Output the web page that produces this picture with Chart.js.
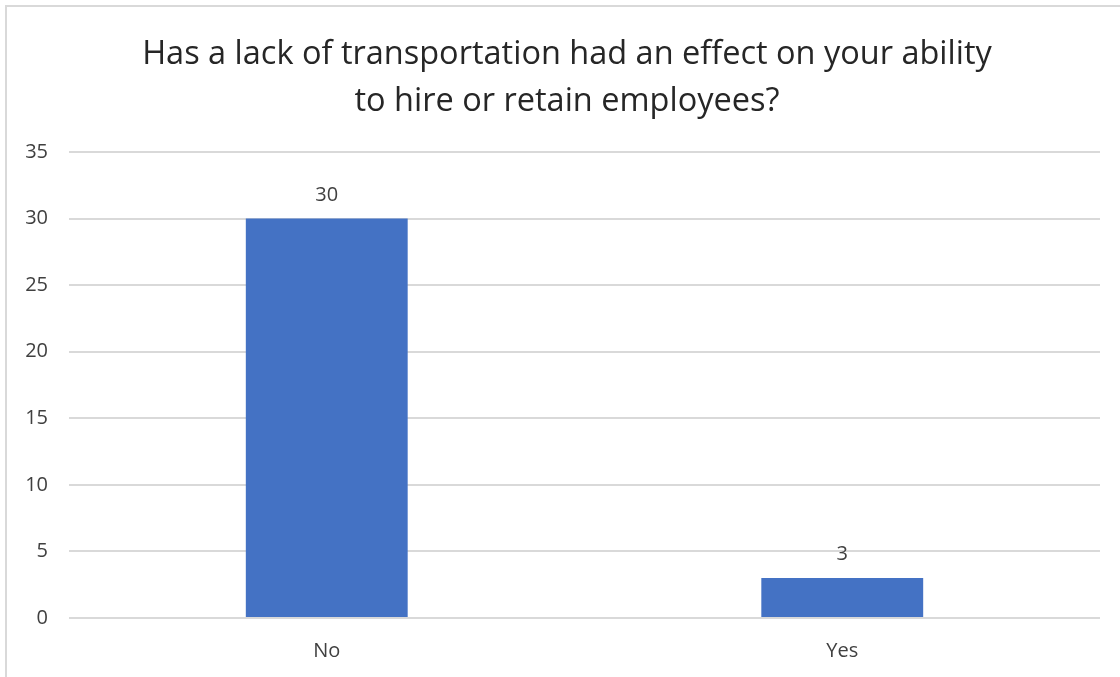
<!DOCTYPE html>
<html>
<head>
<meta charset="utf-8">
<script src="https://cdn.jsdelivr.net/npm/chart.js@4"></script>
<style>
html,body{margin:0;padding:0;background:#fff;}
#wrap{position:absolute;left:0;top:0;width:1120px;height:677px;}
</style>
</head>
<body>
<div id="wrap"><canvas id="c" width="1120" height="677"></canvas></div>
<script>
const categories = ["No", "Yes"];
const counts = [30, 3];
const yTicks = [0, 5, 10, 15, 20, 25, 30, 35];
const titleLines = ["Has a lack of transportation had an effect on your ability", "to hire or retain employees?"];

const FONT = "'Open Sans', sans-serif";

const frame = {
  id: 'frame',
  beforeDraw(chart) {
    const ctx = chart.ctx;
    ctx.save();
    ctx.fillStyle = '#fff';
    ctx.fillRect(0, 0, chart.width, chart.height);
    ctx.strokeStyle = '#d9d9d9';
    ctx.lineWidth = 2;
    ctx.beginPath();
    ctx.moveTo(6, chart.height + 5);
    ctx.lineTo(6, 6);
    ctx.lineTo(chart.width + 5, 6);
    ctx.stroke();
    ctx.restore();
  }
};

const titleText = {
  id: 'titleText',
  afterDraw(chart) {
    const ctx = chart.ctx;
    ctx.save();
    ctx.font = "32.5px " + FONT;
    ctx.fillStyle = '#262626';
    ctx.textAlign = 'center';
    ctx.textBaseline = 'alphabetic';
    const baselines = [64, 111];
    titleLines.forEach((t, i) => ctx.fillText(t, 567, baselines[i]));
    ctx.restore();
  }
};

const valueLabels = {
  id: 'valueLabels',
  afterDatasetsDraw(chart) {
    const ctx = chart.ctx;
    const meta = chart.getDatasetMeta(0);
    ctx.save();
    ctx.font = "20px " + FONT;
    ctx.fillStyle = '#404040';
    ctx.textAlign = 'center';
    ctx.textBaseline = 'alphabetic';
    meta.data.forEach((bar, i) => {
      ctx.fillText(String(chart.data.datasets[0].data[i]), bar.x, bar.y - 18);
    });
    ctx.restore();
  }
};

new Chart(document.getElementById('c'), {
  type: 'bar',
  data: {
    labels: categories,
    datasets: [{
      data: counts,
      backgroundColor: '#4472C4',
      borderWidth: 0,
      barPercentage: 0.628,
      categoryPercentage: 0.5
    }]
  },
  options: {
    responsive: false,
    animation: false,
    layout: { padding: { left: 0, right: 20, top: 152, bottom: 0 } },
    plugins: {
      legend: { display: false },
      tooltip: { enabled: false },
      title: { display: false }
    },
    scales: {
      x: {
        grid: { display: false },
        border: { display: false },
        afterFit(scale) { scale.height = 59; },
        ticks: { color: '#404040', font: { family: FONT, size: 20 }, padding: 13 }
      },
      y: {
        min: 0,
        max: 35,
        afterBuildTicks(scale) { scale.ticks = yTicks.map(v => ({ value: v })); },
        afterFit(scale) { scale.width = 69; },
        grid: { color: '#d9d9d9', lineWidth: 2, drawTicks: false },
        border: { display: false },
        ticks: { color: '#404040', font: { family: FONT, size: 20 }, padding: 21 }
      }
    }
  },
  plugins: [frame, titleText, valueLabels]
});
</script>
</body>
</html>
